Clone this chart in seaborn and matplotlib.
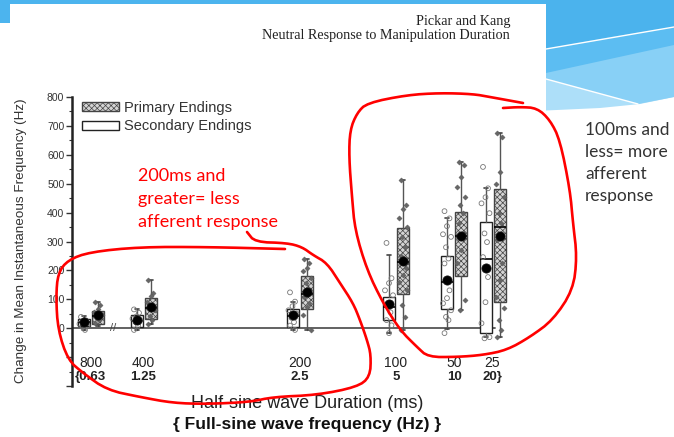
import numpy as np
import pandas as pd
import matplotlib.pyplot as plt
import seaborn as sns
from matplotlib.patches import Patch, Polygon
from matplotlib.lines import Line2D

# ---------------- data ----------------
durations = ['800', '400', '200', '100', '50', '25']
frequencies = ['{0.63', '1.25', '2.5', '5', '10', '20}']

# secondary endings (open boxes)
sec_q1 = [9, 4, 4, 28, 68, -17]
sec_med = [20, 25, 42, 75, 160, 240]
sec_q3 = [33, 45, 66, 107, 250, 367]
sec_mean = [21, 27, 45, 83, 166, 209]
sec_lo = [-6, -6, -6, -17, -3, -31]
sec_hi = [41, 65, 92, 252, 380, 484]
sec_points = [
    [39, 27, 21, 15, 10, 4, -6],
    [65, 53, 41, 33, 27, 21, 9, -6],
    [124, 92, 76, 62, 51, 36, 21, 9, -6],
    [295, 173, 156, 131, 114, 86, 55, 28, 10, -17],
    [405, 380, 353, 325, 316, 280, 241, 224, 131, 104, 86, 62, 39, 28, -17],
    [558, 484, 453, 432, 398, 328, 298, 246, 177, 90, 17, -31, -35],
]

# primary endings (hatched boxes)
pri_q1 = [13, 33, 68, 118, 180, 91]
pri_med = [42, 70, 120, 230, 320, 351]
pri_q3 = [60, 104, 182, 346, 401, 481]
pri_mean = [45, 72, 124, 233, 320, 320]
pri_lo = [9, 15, -6, -7, 62, -30]
pri_hi = [92, 166, 239, 514, 576, 677]
pri_points = [
    [92, 80, 68, 56, 45, 36, 27, 18],
    [166, 121, 112, 92, 62, 41, 27, 15],
    [239, 227, 209, 198, 174, 156, 135, 109, 88, 72, 45, -6],
    [514, 425, 414, 380, 350, 316, 280, 250, 210, 183, 160, 131, 80, 39, -7],
    [576, 564, 523, 488, 453, 425, 400, 363, 330, 270, 224, 97, 62],
    [677, 662, 541, 500, 454, 398, 363, 304, 224, 166, 107, 69, 28, -7, -30],
]

# ---------------- layout ----------------
W, H = 674, 437
group_x = [90.5, 143.5, 299.5, 396, 454, 492.5]   # axis units = pixels
pair_off = 7
jitter = [-2.5, 2.5, 0, -4, 4, -1, 1.5]

sns.set_style('white')
plt.rcParams['font.family'] = ['Liberation Sans', 'DejaVu Sans']
plt.rcParams['hatch.linewidth'] = 0.5

fig = plt.figure(figsize=(W / 100, H / 100), dpi=100)
fig.patch.set_facecolor('white')


def fx(x, y):
    return x / W, 1 - y / H


# slide decoration (blue corners)
def poly(pts, color, z=0):
    fig.add_artist(Polygon([fx(*p) for p in pts], closed=True, facecolor=color,
                           edgecolor='none', transform=fig.transFigure, zorder=z))


poly([(0, 0), (546, 0), (546, 3.5), (0, 3.5)], '#4cb4ee')
poly([(0, 0), (10, 0), (10, 23), (0, 23)], '#4cb4ee')
poly([(546, 0), (674, 0), (674, 97), (640, 104), (600, 108), (546, 110.5)], '#addff9')
poly([(546, 0), (674, 0), (674, 97), (638, 104), (546, 79)], '#88d0f6')
poly([(546, 0), (674, 0), (674, 45), (546, 73)], '#5cbdf2')
poly([(546, 0), (674, 0), (674, 27), (610, 37), (546, 49)], '#4bb3ed')
for a, b in [((546, 49), (674, 27)), ((546, 79), (638, 104))]:
    fig.add_artist(Line2D([fx(*a)[0], fx(*b)[0]], [fx(*a)[1], fx(*b)[1]],
                          color='white', lw=1, transform=fig.transFigure))

# paper header
fig.text(*fx(510, 22), 'Pickar and Kang', ha='right', va='center',
         family='Liberation Serif', fontsize=10.2, color='#222')
fig.text(*fx(510, 36), 'Neutral Response to Manipulation Duration', ha='right',
         va='center', family='Liberation Serif', fontsize=10.2, color='#222')

# ---------------- the chart ----------------
ax = fig.add_axes([72 / W, 51 / H, 473 / W, 289 / H])
ax.set_facecolor('none')
ax.set_xlim(72, 545)
ax.set_ylim(-200, 800)


def stats(q1, med, q3, lo, hi, mean):
    return [dict(q1=a, med=b, q3=c, whislo=d, whishi=e, mean=f, fliers=[])
            for a, b, c, d, e, f in zip(q1, med, q3, lo, hi, mean)]


sec_pos = [g - pair_off for g in group_x]
pri_pos = [g + pair_off for g in group_x]
common = dict(widths=12, patch_artist=True, showfliers=False, capwidths=4,
              whiskerprops=dict(color='#555', lw=1),
              capprops=dict(color='#444', lw=1.2),
              medianprops=dict(color='black', lw=1.2))
ax.bxp(stats(sec_q1, sec_med, sec_q3, sec_lo, sec_hi, sec_mean), positions=sec_pos,
       boxprops=dict(facecolor='white', edgecolor='#222', lw=1), **common)
ax.bxp(stats(pri_q1, pri_med, pri_q3, pri_lo, pri_hi, pri_mean), positions=pri_pos,
       boxprops=dict(facecolor='#d4d4d4', edgecolor='#444', lw=1, hatch='xxxxxx'),
       **common)

rows = []
for kind, pos, pts in [('Secondary', sec_pos, sec_points), ('Primary', pri_pos, pri_points)]:
    for i, vals in enumerate(pts):
        for j, v in enumerate(vals):
            rows.append(dict(kind=kind, x=pos[i] + jitter[j % len(jitter)], value=v))
df = pd.DataFrame(rows)

sns.scatterplot(data=df[df.kind == 'Secondary'], x='x', y='value', marker='o', s=12,
                color='white', edgecolor='#777', linewidth=0.6, ax=ax, zorder=3)
ax.collections[-1].set_facecolor('none')
sns.scatterplot(data=df[df.kind == 'Primary'], x='x', y='value', marker='D', s=7,
                color='#666', edgecolor='#555', linewidth=0.3, ax=ax, zorder=3)

means = pd.DataFrame(dict(x=sec_pos + pri_pos, value=sec_mean + pri_mean))
sns.scatterplot(data=means, x='x', y='value', marker='o', s=44, color='black',
                edgecolor='#111', ax=ax, zorder=5)

ax.axhline(0, xmin=0, xmax=(495 - 72) / 473, color='#555', lw=1.3, zorder=1)
ax.text(113, 0, '//', ha='center', va='center', fontsize=8, color='#444', zorder=4)

# axis styling
for s in ['top', 'right', 'bottom']:
    ax.spines[s].set_visible(False)
ax.spines['left'].set_linewidth(1.8)
ax.spines['left'].set_color('#222')
ax.set_xticks([])
ax.set_yticks(np.arange(-200, 801, 100))
ax.set_yticklabels(['', ''] + [str(v) for v in range(0, 801, 100)])
ax.set_yticks(np.arange(-150, 801, 100), minor=True)
ax.tick_params(axis='y', which='major', direction='out', length=4, width=1,
               labelsize=7.5, labelcolor='#333', pad=1.5, color='#333')
ax.tick_params(axis='y', which='minor', direction='out', length=2.5, width=0.8, color='#333')
ax.tick_params(axis='y', which='both', left=True)
ax.set_xlabel('')
ax.set_ylabel('')

for g, d, f in zip(group_x, durations, frequencies):
    ax.text(g, -121, d, ha='center', va='center', fontsize=10, color='#222')
    ax.text(g, -170, f, ha='center', va='center', fontsize=9.5, color='#222',
            fontweight='bold')

handles = [Patch(facecolor='#d4d4d4', edgecolor='#444', hatch='xxxxxx', lw=1),
           Patch(facecolor='white', edgecolor='#222', lw=1)]
ax.legend(handles, ['Primary Endings', 'Secondary Endings'], loc='upper left',
          bbox_to_anchor=fx(82, 101), bbox_transform=fig.transFigure, frameon=False,
          fontsize=10.5, handlelength=2.55, handleheight=0.58, handletextpad=0.35,
          labelspacing=0.3, borderpad=0, borderaxespad=0, labelcolor='#333')

fig.text(*fx(21, 241), 'Change in Mean Instantaneous Frequency (Hz)', rotation=90,
         ha='center', va='center', fontsize=9.7, color='#333')
fig.text(*fx(307, 403), 'Half-sine wave Duration (ms)', ha='center', va='center',
         fontsize=13, color='#222')
fig.text(*fx(307, 425), '{ Full-sine wave frequency (Hz) }', ha='center', va='center',
         fontsize=12.5, fontweight='bold', color='#111')

# ---------------- hand-drawn annotations ----------------
left_loop = [(247, 232), (255, 242), (287, 243), (302, 247), (313, 255), (327, 263),
             (340, 283), (353, 303), (360, 320), (367, 340), (371, 355), (370, 377),
             (357, 387), (317, 395), (273, 397), (250, 402), (207, 404), (173, 403),
             (140, 397), (107, 390), (83, 373), (68, 360), (58, 330), (56, 297),
             (58, 273), (68, 260), (90, 252), (140, 247), (207, 247), (285, 249)]
right_loop = [(523, 103), (490, 97), (473, 94), (440, 93), (407, 95), (367, 103),
              (357, 113), (350, 130), (349, 157), (352, 197), (355, 230), (367, 270),
              (383, 303), (400, 330), (417, 347), (428, 357), (457, 357), (483, 355),
              (507, 350), (530, 337), (553, 320), (573, 290), (577, 257), (573, 223),
              (570, 190), (560, 140), (550, 120), (537, 108), (520, 107), (503, 108)]


def chaikin(pts, n=2):
    p = np.array(pts, dtype=float)
    for _ in range(n):
        q = 0.75 * p[:-1] + 0.25 * p[1:]
        r = 0.25 * p[:-1] + 0.75 * p[1:]
        p = np.vstack([p[:1], np.column_stack([q, r]).reshape(-1, 2), p[-1:]])
    return p


for stroke in [left_loop, right_loop]:
    p = chaikin(stroke)
    fig.add_artist(Line2D(p[:, 0] / W, 1 - p[:, 1] / H, color='#ff0000', lw=1.9,
                          solid_capstyle='round', solid_joinstyle='round',
                          transform=fig.transFigure, zorder=10))

fig.text(*fx(138, 168), '200ms and\ngreater= less\nafferent response', ha='left',
         va='top', family='Lato', fontsize=13, color='#ff0000', linespacing=1.55)
fig.text(*fx(585, 122), '100ms and\nless= more\nafferent\nresponse', ha='left',
         va='top', family='Lato', fontsize=12.5, color='#333333', linespacing=1.45)

fig.savefig('out.png', dpi=100)
